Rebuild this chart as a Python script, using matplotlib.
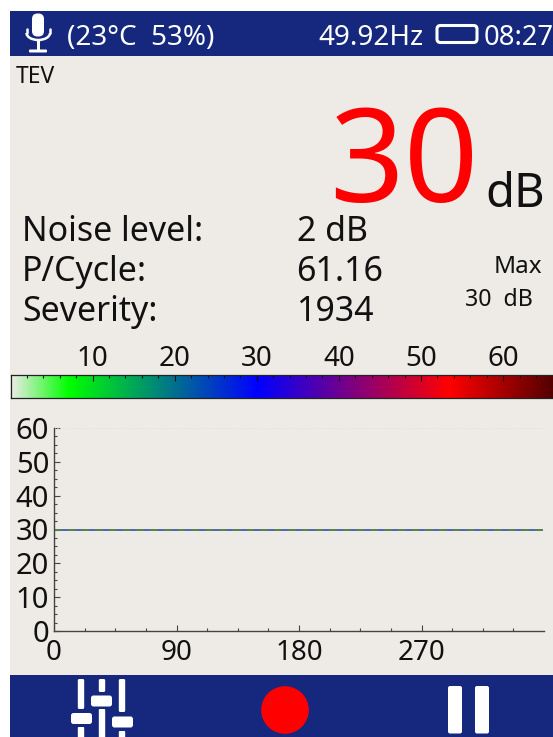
import matplotlib
matplotlib.use("Agg")
import matplotlib.pyplot as plt
import numpy as np
from matplotlib.colors import LinearSegmentedColormap
from matplotlib.patches import Rectangle, FancyBboxPatch, Circle

W, H = 553, 737
plt.rcParams['font.family'] = ['Noto Sans', 'DejaVu Sans']

BG = '#EEEBE7'
NAVY = '#15287E'
INK = '#111111'

# ---- data ----
status_left = "(23°C  53%)"
status_freq = "49.92Hz"
status_time = "08:27"
mode_label = "TEV"
reading_value = "30"
reading_unit = "dB"
stat_names = ["Noise level:", "P/Cycle:", "Severity:"]
stat_values = ["2 dB", "61.16", "1934"]
max_title = "Max"
max_value = "30  dB"

scale_ticks = [10, 20, 30, 40, 50, 60]
scale_minor = [2, 4, 6, 8, 12, 14, 16, 18, 22, 24, 26, 28, 32, 34, 36, 38,
               42, 44, 46, 48, 52, 54, 56, 58, 62, 64]
scale_stops = [0, 7, 30, 53.4, 66.2]
scale_colors = ['#EEEBE7', '#00FF00', '#0000FF', '#FF0000', '#500000']

phase_ticks = [0, 90, 180, 270]
phase_minor = [22.5, 45, 67.5, 112.5, 135, 157.5, 202.5, 225, 247.5, 292.5, 315, 337.5]
level_ticks = [0, 10, 20, 30, 40, 50, 60]
phase_extent = [0, 359]
level_trace = [30, 30]

fig = plt.figure(figsize=(W / 100, H / 100), dpi=100, facecolor='white')

def axes_px(x0, y0, x1, y1, **kw):
    return fig.add_axes([x0 / W, 1 - y1 / H, (x1 - x0) / W, (y1 - y0) / H], **kw)

# overlay in pixel coordinates (background, text, icons)
ov = axes_px(0, 0, W, H)
ov.set_xlim(0, W); ov.set_ylim(H, 0); ov.axis('off'); ov.set_zorder(0)
ov.add_patch(Rectangle((10, 11), W - 10, H - 11, fc=BG, ec='none'))
ov.add_patch(Rectangle((10, 11), W - 10, 45, fc=NAVY, ec='none'))
ov.add_patch(Rectangle((10, 675), W - 10, 62, fc=NAVY, ec='none'))

def t(x, y, s, size, color=INK, ha='left', **kw):
    ov.text(x, y, s, fontsize=size, color=color, ha=ha, va='baseline', **kw)

t(67, 45, status_left, 20, 'white')
t(318, 45, status_freq, 20, 'white')
t(483.5, 45, status_time, 19.7, 'white')
t(16, 83, mode_label, 16.5)
t(329, 202, reading_value, 94, '#FF0000')
t(485.5, 207, reading_unit, 34)
for n, v, y, vx in zip(stat_names, stat_values, [241, 281, 321], [297, 296, 296]):
    t(22, y, n, 24.4)
    t(vx, y, v, 24.4)
t(542, 273, max_title, 17.5, ha='right')
t(533, 306, max_value, 16.7, ha='right')

def rr(x, y, w, h, r=1.5, fc='white', ec='none', lw=0):
    ov.add_patch(FancyBboxPatch((x + r, y + r), w - 2 * r, h - 2 * r,
                                boxstyle=f"round,pad={r}", fc=fc, ec=ec, lw=lw))

# microphone icon
rr(32, 13.5, 12, 23, r=5.5)
ov.plot([26.5, 26.5], [29, 33], color='white', lw=1.8, solid_capstyle='round')
ov.plot([50, 50], [29, 33], color='white', lw=1.8, solid_capstyle='round')
ov.add_patch(matplotlib.patches.Arc((38.25, 33), 23.5, 14, theta1=0, theta2=180,
                                    ec='white', lw=1.8))
ov.add_patch(Rectangle((36.5, 40), 3.5, 10, fc='white', ec='none'))
rr(29, 49.5, 18, 3, r=1)

# battery icon
rr(437, 25.5, 40, 17, r=3.5, fc='none', ec='white', lw=2.2)

# slider icon
for x, (a, b, c, d) in zip([81, 102, 122], [(679, 709, 727, 737), (679, 692, 709, 737), (679, 712, 731, 737)]):
    rr(x - 3.2, a, 6.4, b - a, r=1.5)
    rr(x - 3.2, c, 6.4, d - c + 2, r=1)
rr(71, 713, 21, 11, r=2.5)
rr(91, 695.5, 21, 11, r=2.5)
rr(112, 716.5, 21, 11, r=2.5)

ov.add_patch(Circle((285, 710), 23.8, fc='#FF0000', ec='none'))
rr(448, 686, 14, 47.5, r=2)
rr(475, 686, 14, 47.5, r=2)

# ---- colour scale ----
cax = axes_px(10.5, 375, W + 1, 398)
cax.set_zorder(2)
cmap = LinearSegmentedColormap.from_list(
    'scale', [(s / scale_stops[-1], c) for s, c in zip(scale_stops, scale_colors)], N=512)
cax.imshow(np.linspace(0, 1, 512)[None, :], cmap=cmap, aspect='auto',
           extent=[0, scale_stops[-1], 0, 1])
cax.set_yticks([])
cax.xaxis.set_ticks_position('top')
cax.set_xticks(scale_ticks)
cax.set_xticks(scale_minor, minor=True)
cax.tick_params(axis='x', which='major', direction='in', length=4.2, width=0.8,
                color='#111111', labelsize=20, pad=1.5, labelcolor=INK)
cax.tick_params(axis='x', which='minor', direction='in', length=2, width=0.8, color='#111111')
for s in cax.spines.values():
    s.set_linewidth(0.9); s.set_color('#222222')

# ---- trace chart ----
ax = axes_px(54, 428, 544, 631)
ax.set_zorder(2)
ax.patch.set_alpha(0)
ax.set_xlim(0, 360)
ax.set_ylim(0, 60)
ax.plot(phase_extent, level_trace, color='#3A5FA8', lw=1.3, solid_capstyle='butt')
ax.plot(phase_extent, level_trace, color='#5C8A3C', lw=1.1, ls=(0, (5, 4)))
ax.axhline(level_ticks[-1], color='#E2E0DC', lw=0.8, ls=':')
ax.spines['top'].set_visible(False)
ax.spines['right'].set_visible(False)
for s in ['left', 'bottom']:
    ax.spines[s].set_linewidth(1.0); ax.spines[s].set_color('#444444')
ax.set_xticks(phase_ticks)
ax.set_xticks(phase_minor, minor=True)
ax.set_yticks(level_ticks)
ax.set_yticks(np.arange(0, 60.1, 2.5), minor=True)
ax.tick_params(which='major', direction='in', length=4.5, width=0.8, color='#444444',
               labelcolor=INK, pad=3)
ax.tick_params(axis='y', which='major', labelsize=21, pad=3.5)
ax.tick_params(axis='x', which='major', labelsize=20, pad=6)
ax.tick_params(which='minor', direction='in', length=2.2, width=0.8, color='#444444')

fig.savefig('out.png', dpi=100, facecolor='white')
